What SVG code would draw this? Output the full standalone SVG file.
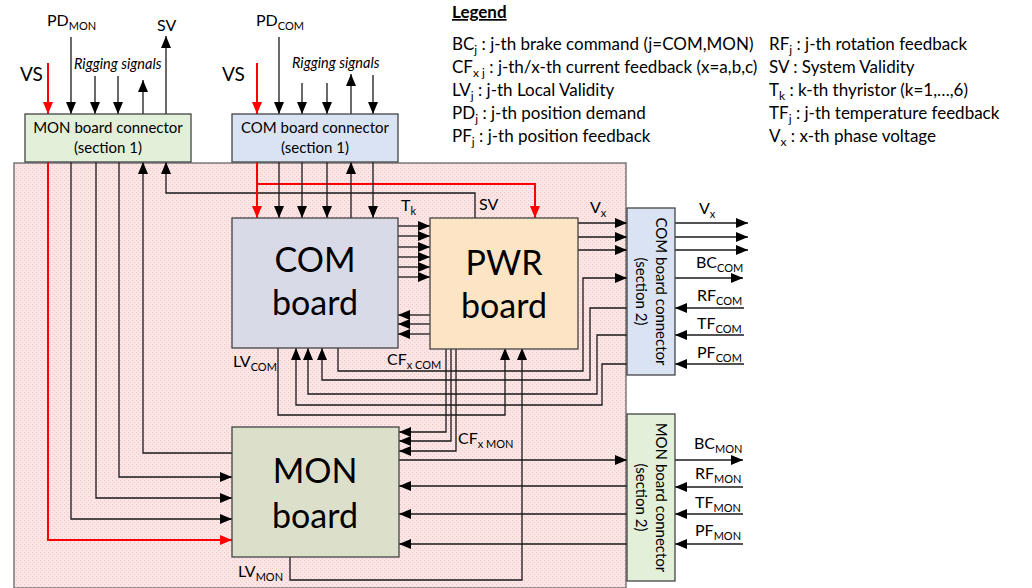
<svg xmlns="http://www.w3.org/2000/svg" width="1032" height="588" viewBox="0 0 1032 588">
<defs>
<pattern id="pink" width="4" height="4" patternUnits="userSpaceOnUse">
<rect width="4" height="4" fill="#fbe5e5"/>
<rect x="0" y="0" width="1" height="1" fill="#efc3c3"/>
<rect x="2" y="2" width="1" height="1" fill="#efc3c3"/>
</pattern>
<marker id="ah" markerUnits="userSpaceOnUse" markerWidth="12" markerHeight="10" refX="12" refY="5" orient="auto">
<path d="M0,0 L12,5 L0,10 z" fill="#000"/>
</marker>
<marker id="ahr" markerUnits="userSpaceOnUse" markerWidth="12" markerHeight="10" refX="12" refY="5" orient="auto">
<path d="M0,0 L12,5 L0,10 z" fill="#f00"/>
</marker>
</defs>
<style>
text{font-family:Lato,"Liberation Sans",sans-serif;fill:#000}
.lbl{font-size:16px}
.sub{font-size:11px}
.lsub{font-size:12px}
.leg{font-size:17px}
.big{font-size:34px;text-anchor:middle}
.conn{font-size:15px;text-anchor:middle}
.rig{font-size:14.5px;font-style:italic}
.box{stroke:#444;stroke-width:1.3}
.w{fill:none;stroke:#1a1a1a;stroke-width:1.3;marker-end:url(#ah)}
.r{fill:none;stroke:#f00;stroke-width:2;marker-end:url(#ahr)}
</style>

<rect id="background" x="14" y="163" width="612" height="425" fill="url(#pink)" stroke="#666" stroke-width="1.3"/>

<g id="connectors">
<path class="r" d="M48,63 V114"/>
<path class="w" d="M71,37 V114"/>
<path class="w" d="M95,76 V114"/>
<path class="w" d="M118,76 V114"/>
<path class="w" d="M143,114 V80"/>
<path class="w" d="M166,114 V36"/>
<path class="r" d="M257,63 V114"/>
<path class="w" d="M279,37 V114"/>
<path class="w" d="M302,83 V114"/>
<path class="w" d="M327,83 V114"/>
<path class="w" d="M351,114 V74"/>
<path class="w" d="M373,75 V114"/>
<path class="r" d="M48,162 V540 H232"/>
<path class="w" d="M71,162 V519 H232"/>
<path class="w" d="M96,162 V498 H232"/>
<path class="w" d="M119,162 V477 H232"/>
<path class="w" d="M232,453 H143 V162"/>
<path class="w" d="M475,218 V193 H166 V162"/>
<path class="r" d="M257,162 V218"/>
<path class="r" d="M257,184 H535 V218"/>
<path class="w" d="M279,162 V218"/>
<path class="w" d="M302,162 V218"/>
<path class="w" d="M327,162 V218"/>
<path class="w" d="M351,218 V162"/>
<path class="w" d="M373,162 V218"/>
<path class="w" d="M398,226 H430"/>
<path class="w" d="M398,236 H430"/>
<path class="w" d="M398,247 H430"/>
<path class="w" d="M398,257 H430"/>
<path class="w" d="M398,267 H430"/>
<path class="w" d="M398,277 H430"/>
<path class="w" d="M430,315 H398"/>
<path class="w" d="M430,324 H398"/>
<path class="w" d="M430,334 H398"/>
<path class="w" d="M578,223 H627"/>
<path class="w" d="M578,237 H627"/>
<path class="w" d="M578,250 H627"/>
<path class="w" d="M338,348 V371 H583 V278 H627"/>
<path class="w" d="M627,308 H590 V380 H322 V348"/>
<path class="w" d="M627,335 H597 V394 H308 V348"/>
<path class="w" d="M627,364 H602 V405 H296 V348"/>
<path class="w" d="M278,348 V415 H505 V348"/>
<path class="w" d="M290,557 V580 H522 V348"/>
<path class="w" d="M446,348 V432 H399"/>
<path class="w" d="M451,348 V441 H399"/>
<path class="w" d="M456,348 V451 H399"/>
<path class="w" d="M399,460 H627"/>
<path class="w" d="M627,486 H399"/>
<path class="w" d="M627,514 H399"/>
<path class="w" d="M627,544 H399"/>
<path class="w" d="M675,223 H748"/>
<path class="w" d="M675,237 H748"/>
<path class="w" d="M675,250 H748"/>
<path class="w" d="M675,278 H743"/>
<path class="w" d="M744,308 H675"/>
<path class="w" d="M744,335 H675"/>
<path class="w" d="M744,364 H675"/>
<path class="w" d="M675,460 H743"/>
<path class="w" d="M743,487 H675"/>
<path class="w" d="M743,514 H675"/>
<path class="w" d="M743,544 H675"/>
</g>

<g id="mon-connector-1">
<rect class="box" x="25" y="114" width="166" height="48" fill="#e2efd9"/>
<text class="conn" x="108" y="133">MON board connector</text>
<text class="conn" x="108" y="153">(section 1)</text>
</g>
<g id="com-connector-1">
<rect class="box" x="232" y="114" width="166" height="48" fill="#dae3f3"/>
<text class="conn" x="315" y="133">COM board connector</text>
<text class="conn" x="315" y="153">(section 1)</text>
</g>
<g id="com-board">
<rect class="box" x="232" y="218" width="166" height="130" fill="#d6d9e8" fill-opacity="0.92"/>
<text class="big" x="315" y="272">COM</text>
<text class="big" x="315" y="315">board</text>
</g>
<g id="pwr-board">
<rect class="box" x="430" y="218" width="148" height="131" fill="#fce5c3" fill-opacity="0.95"/>
<text class="big" x="504" y="275">PWR</text>
<text class="big" x="504" y="318">board</text>
</g>
<g id="mon-board">
<rect class="box" x="232" y="427" width="167" height="130" fill="#d9dfc9" fill-opacity="0.92"/>
<text class="big" x="315" y="483">MON</text>
<text class="big" x="315" y="528">board</text>
</g>
<g id="com-connector-2">
<rect class="box" x="627" y="208" width="48" height="167" fill="#dae3f3"/>
<text class="conn" transform="translate(656,291.5) rotate(90)">COM board connector</text>
<text class="conn" transform="translate(636,291.5) rotate(90)">(section 2)</text>
</g>
<g id="mon-connector-2">
<rect class="box" x="627" y="414" width="48" height="167" fill="#e2efd9"/>
<text class="conn" transform="translate(656,497.5) rotate(90)">MON board connector</text>
<text class="conn" transform="translate(636,497.5) rotate(90)">(section 2)</text>
</g>

<g id="labels">
<text class="lbl" x="47" y="26">PD<tspan class="sub" dy="4">MON</tspan></text>
<text class="lbl" x="157" y="31">SV</text>
<text class="lbl" x="20" y="81" style="font-size:19px">VS</text>
<text class="rig" x="74" y="69">Rigging signals</text>
<text class="lbl" x="256" y="26">PD<tspan class="sub" dy="4">COM</tspan></text>
<text class="lbl" x="222" y="81" style="font-size:19px">VS</text>
<text class="rig" x="292" y="68">Rigging signals</text>
<text class="lbl" x="401" y="211">T<tspan class="sub" dy="4">k</tspan></text>
<text class="lbl" x="479" y="210">SV</text>
<text class="lbl" x="590" y="213">V<tspan class="sub" dy="4">x</tspan></text>
<text class="lbl" x="699" y="214">V<tspan class="sub" dy="4">x</tspan></text>
<text class="lbl" x="696" y="268">BC<tspan class="sub" dy="4">COM</tspan></text>
<text class="lbl" x="697" y="301">RF<tspan class="sub" dy="4">COM</tspan></text>
<text class="lbl" x="697" y="329">TF<tspan class="sub" dy="4">COM</tspan></text>
<text class="lbl" x="697" y="358">PF<tspan class="sub" dy="4">COM</tspan></text>
<text class="lbl" x="233" y="367">LV<tspan class="sub" dy="4">COM</tspan></text>
<text class="lbl" x="387" y="365">CF<tspan class="sub" dy="4">x COM</tspan></text>
<text class="lbl" x="458" y="444">CF<tspan class="sub" dy="4">x MON</tspan></text>
<text class="lbl" x="238" y="577">LV<tspan class="sub" dy="4">MON</tspan></text>
<text class="lbl" x="694" y="449">BC<tspan class="sub" dy="4">MON</tspan></text>
<text class="lbl" x="695" y="479">RF<tspan class="sub" dy="4">MON</tspan></text>
<text class="lbl" x="695" y="508">TF<tspan class="sub" dy="4">MON</tspan></text>
<text class="lbl" x="695" y="536">PF<tspan class="sub" dy="4">MON</tspan></text>
</g>

<g id="legend">
<text x="452" y="18" style="font-size:17px;font-weight:bold;text-decoration:underline">Legend</text>
<text class="leg" x="452" y="50">BC<tspan class="lsub" dy="4">j</tspan><tspan dy="-4"> : j-th brake command (j=COM,MON)</tspan></text>
<text class="leg" x="452" y="73">CF<tspan class="lsub" dy="4">x j</tspan><tspan dy="-4"> : j-th/x-th current feedback (x=a,b,c)</tspan></text>
<text class="leg" x="452" y="96">LV<tspan class="lsub" dy="4">j</tspan><tspan dy="-4"> : j-th Local Validity</tspan></text>
<text class="leg" x="452" y="119">PD<tspan class="lsub" dy="4">j</tspan><tspan dy="-4"> : j-th position demand</tspan></text>
<text class="leg" x="452" y="142">PF<tspan class="lsub" dy="4">j</tspan><tspan dy="-4"> : j-th position feedback</tspan></text>
<text class="leg" x="769" y="50">RF<tspan class="lsub" dy="4">j</tspan><tspan dy="-4"> : j-th rotation feedback</tspan></text>
<text class="leg" x="769" y="73">SV : System Validity</text>
<text class="leg" x="769" y="96">T<tspan class="lsub" dy="4">k</tspan><tspan dy="-4"> : k-th thyristor (k=1,…,6)</tspan></text>
<text class="leg" x="769" y="119">TF<tspan class="lsub" dy="4">j</tspan><tspan dy="-4"> : j-th temperature feedback</tspan></text>
<text class="leg" x="769" y="142">V<tspan class="lsub" dy="4">x</tspan><tspan dy="-4"> : x-th phase voltage</tspan></text>
</g>
</svg>
